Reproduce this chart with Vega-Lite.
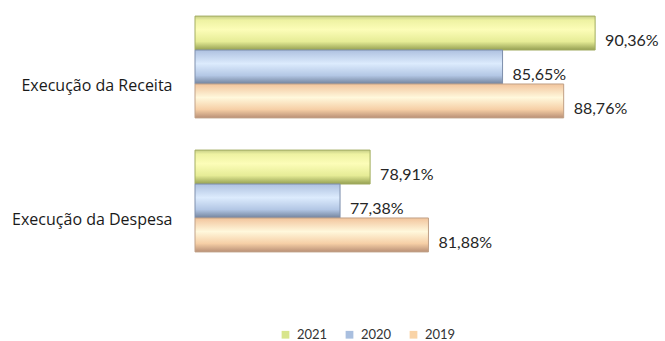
{
  "$schema": "https://vega.github.io/schema/vega-lite/v6.json",
  "autosize": "none",
  "width": 452,
  "height": 268,
  "padding": {"left": 195, "top": 0, "right": 18, "bottom": 73},
  "background": "white",
  "config": {
    "view": {"stroke": null},
    "font": "Lato",
    "locale": {"number": {"decimal": ",", "thousands": ".", "grouping": [3], "currency": ["R$", ""]}}
  },
  "data": {
    "values": [
      {"categoria": "Execução da Receita", "ano": "2021", "valor": 0.9036},
      {"categoria": "Execução da Receita", "ano": "2020", "valor": 0.8565},
      {"categoria": "Execução da Receita", "ano": "2019", "valor": 0.8876},
      {"categoria": "Execução da Despesa", "ano": "2021", "valor": 0.7891},
      {"categoria": "Execução da Despesa", "ano": "2020", "valor": 0.7738},
      {"categoria": "Execução da Despesa", "ano": "2019", "valor": 0.8188}
    ]
  },
  "encoding": {
    "y": {
      "field": "categoria", "type": "nominal",
      "sort": ["Execução da Receita", "Execução da Despesa"],
      "scale": {"paddingInner": 0.24, "paddingOuter": 0.12},
      "axis": {"title": null, "domain": false, "ticks": false, "labelPadding": 23, "labelOffset": 19, "labelFontSize": 16, "labelColor": "#1a1a1a", "labelFont": "Open Sans", "labelLimit": 300}
    },
    "yOffset": {
      "field": "ano", "type": "nominal",
      "sort": ["2021", "2020", "2019"],
      "scale": {"domain": ["2021", "2020", "2019"], "paddingInner": 0, "paddingOuter": 0}
    },
    "x": {
      "field": "valor", "type": "quantitative",
      "scale": {"domain": [0.70, 0.93], "zero": false, "nice": false},
      "axis": null
    }
  },
  "layer": [
    {
      "mark": {"type": "bar"},
      "encoding": {
        "x2": {"datum": 0.70},
        "color": {
          "field": "ano", "type": "nominal",
          "sort": ["2021", "2020", "2019"],
          "scale": {"domain": ["2021", "2020", "2019"], "range": ["#d8e58c", "#a9bfdf", "#f9d3a6"]},
          "legend": {
            "title": null, "orient": "none", "direction": "horizontal",
            "legendX": 84, "legendY": 328,
            "symbolType": "square", "symbolSize": 60, "symbolStrokeWidth": 0,
            "labelFontSize": 13, "labelColor": "#333333", "labelFont": "Lato",
            "columnPadding": 15, "labelOffset": 5
          }
        }
      }
    },
    {
      "mark": {"type": "bar", "strokeWidth": 1},
      "encoding": {
        "x2": {"datum": 0.70},
        "fill": {
          "condition": [
            {"test": "datum.ano === '2021'", "value": {"gradient": "linear", "x1": 0, "y1": 0, "x2": 0, "y2": 1, "stops": [
              {"offset": 0, "color": "#c6cd86"},
              {"offset": 0.12, "color": "#eef2a2"},
              {"offset": 0.4, "color": "#fcfdb8"},
              {"offset": 0.75, "color": "#e6ec96"},
              {"offset": 1, "color": "#95a052"}]}},
            {"test": "datum.ano === '2020'", "value": {"gradient": "linear", "x1": 0, "y1": 0, "x2": 0, "y2": 1, "stops": [
              {"offset": 0, "color": "#aec1e0"},
              {"offset": 0.4, "color": "#dcebfd"},
              {"offset": 0.75, "color": "#b3c7e5"},
              {"offset": 1, "color": "#72829c"}]}}
          ],
          "value": {"gradient": "linear", "x1": 0, "y1": 0, "x2": 0, "y2": 1, "stops": [
            {"offset": 0, "color": "#f2c49c"},
            {"offset": 0.4, "color": "#fff8dc"},
            {"offset": 0.75, "color": "#f6cfa6"},
            {"offset": 1, "color": "#b99076"}]}
        },
        "stroke": {
          "condition": [
            {"test": "datum.ano === '2021'", "value": "#a3ad63"},
            {"test": "datum.ano === '2020'", "value": "#7e8fac"}
          ],
          "value": "#c0a188"
        }
      }
    },
    {
      "mark": {"type": "text", "align": "left", "baseline": "middle", "dx": 10, "dy": 8, "fontSize": 16, "color": "#262626", "font": "Lato"},
      "encoding": {
        "text": {"field": "valor", "type": "quantitative", "format": ".2%"}
      }
    }
  ]
}
